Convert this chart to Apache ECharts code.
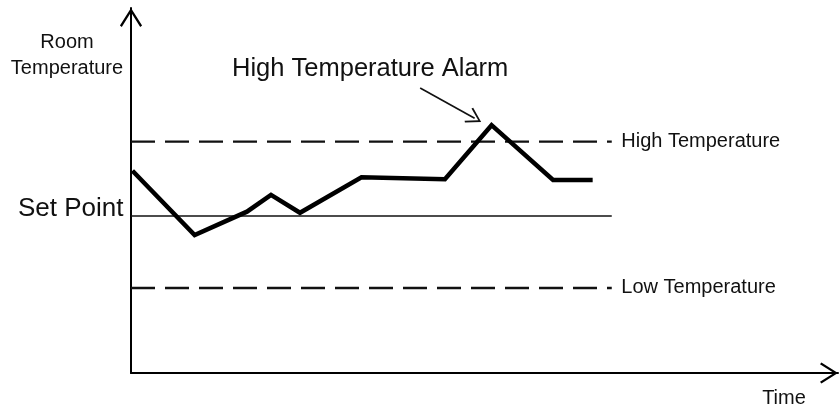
<!DOCTYPE html>
<html><head><meta charset="utf-8">
<script src="https://cdn.jsdelivr.net/npm/echarts@6/dist/echarts.min.js"></script>
<style>html,body{margin:0;padding:0;background:#fff}#c{width:840px;height:410px}</style>
</head><body><div id="c"></div>
<script>
// ---- data (abstract time / temperature units) ----
const timeValues = [0.2, 9.0, 16.4, 19.8, 23.9, 32.6, 44.4, 51.0, 59.7, 65.3];
const roomTemps  = [55.4, 37.8, 44.2, 48.8, 43.9, 53.6, 53.1, 67.9, 52.9, 52.9];
const thresholdNames  = ['High Temperature', 'Set Point', 'Low Temperature'];
const thresholdValues = [63.4, 43.0, 23.3];
const thresholdSpan   = [0, 68.0];
const alarmArrowFrom  = [40.9, 78.1];
const alarmArrowTo    = [48.6, 69.8];
const axisTitles = ['Time', 'Room\nTemperature'];
const alarmTitle = 'High Temperature Alarm';

const FONT = 'Arial, "Liberation Sans", Helvetica, sans-serif';
const chevron = 'path://M12,0 L24,19 L22,20.6 L12,4.6 L2,20.6 L0,19 Z';

const chart = echarts.init(document.getElementById('c'), null, {renderer: 'canvas'});

function thresholdSeries(i) {
  const isSet = thresholdNames[i] === 'Set Point';
  const v = thresholdValues[i];
  const start = {value: [thresholdSpan[0], v]};
  const end = {value: [thresholdSpan[1], v]};
  const lbl = {show: true, color: '#111', fontFamily: FONT};
  if (isSet) {
    start.label = Object.assign({}, lbl, {position: 'left', distance: 7, fontSize: 26, offset: [0, -7], formatter: thresholdNames[i]});
  } else {
    end.label = Object.assign({}, lbl, {position: 'right', distance: 9, fontSize: 20, formatter: thresholdNames[i]});
  }
  return {
    type: 'line', name: thresholdNames[i], data: [start, end],
    symbol: 'circle', symbolSize: 1, showSymbol: true,
    itemStyle: {color: 'rgba(0,0,0,0)'},
    silent: true, z: 2,
    label: {show: false},
    lineStyle: isSet ? {color: '#111', width: 1.6, type: 'solid'}
                     : {color: '#111', width: 2.4, type: [24, 10]}
  };
}

const option = {
  animation: false,
  backgroundColor: '#fff',
  grid: {left: 131, top: 8, right: 2, bottom: 37},
  xAxis: {
    type: 'value', min: 0, max: 100,
    axisLine: {show: true, onZero: false, lineStyle: {color: '#000', width: 2},
      symbol: ['none', chevron], symbolSize: [22, 18], symbolOffset: [0, -9]},
    axisTick: {show: false}, axisLabel: {show: false}, splitLine: {show: false}
  },
  yAxis: {
    type: 'value', min: 0, max: 100,
    axisLine: {show: true, onZero: false, lineStyle: {color: '#000', width: 2},
      symbol: ['none', chevron], symbolSize: [24, 19], symbolOffset: [0, -9.5]},
    axisTick: {show: false}, axisLabel: {show: false}, splitLine: {show: false}
  },
  graphic: [
    {type: 'text', left: 232, top: 56, style: {text: alarmTitle, font: '25.5px ' + FONT, fill: '#111'}},
    {type: 'text', x: 67, y: 55, style: {text: axisTitles[1], font: '20px ' + FONT, fill: '#111', align: 'center', verticalAlign: 'middle', lineHeight: 26}},
    {type: 'text', x: 784, y: 398, style: {text: axisTitles[0], font: '20px ' + FONT, fill: '#111', align: 'center', verticalAlign: 'middle'}}
  ],
  series: [
    thresholdSeries(0), thresholdSeries(1), thresholdSeries(2),
    {
      type: 'line', name: 'Room Temperature', z: 5,
      data: timeValues.map((t, i) => [t, roomTemps[i]]),
      symbol: 'none', silent: true,
      lineStyle: {color: '#000', width: 4.5, join: 'miter'},
      markLine: {
        silent: true, animation: false,
        symbol: ['none', chevron], symbolSize: [17, 15],
        label: {show: false},
        lineStyle: {color: '#111', width: 1.6, type: 'solid'},
        data: [[{coord: alarmArrowFrom}, {coord: alarmArrowTo}]]
      }
    }
  ]
};
chart.setOption(option);
</script></body></html>
